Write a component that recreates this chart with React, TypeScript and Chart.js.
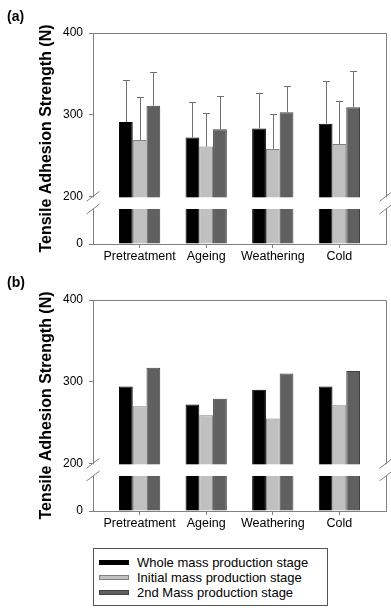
import React, { useEffect, useRef } from 'react';
import { Chart, registerables, LinearScale } from 'chart.js';

Chart.register(...registerables);

// ---------- data ----------
const categories = ['Pretreatment', 'Ageing', 'Weathering', 'Cold'];
const seriesNames = [
  'Whole mass production stage',
  'Initial mass production stage',
  '2nd Mass production stage',
];
const yTicks = [0, 200, 300, 400];

// panel (a): means and upper error (SD)
const aWhole = [291, 272, 283, 289];
const aInitial = [269, 261, 258, 264];
const aSecond = [311, 282, 303, 309];
const aWholeErr = [52, 43, 43, 52];
const aInitialErr = [53, 41, 43, 53];
const aSecondErr = [41, 41, 32, 44];

// panel (b): means
const bWhole = [294, 272, 290, 294];
const bInitial = [270, 259, 255, 271];
const bSecond = [317, 279, 310, 313];

// ---------- styles ----------
const FONT = 'Arial, "Liberation Sans", Helvetica, sans-serif';
const fills = ['#000000', '#c0c0c0', '#606060'];
const borders = ['#000000', '#808080', '#404040'];
const BREAK_LOW = 50;
const BREAK_HIGH = 200;
const LOW_FRAC = 0.166;
const HIGH_FRAC = 0.226;

Chart.defaults.font.family = FONT;
Chart.defaults.color = '#000';

class BrokenScale extends LinearScale {
  static id = 'broken';
  static defaults = { ...(LinearScale as any).defaults };
  getPixelForValue(value: any) {
    if (value === null || value === undefined || isNaN(value)) return NaN;
    const self: any = this;
    const min = self.min;
    const max = self.max;
    let dec: number;
    if (value >= BREAK_HIGH) dec = HIGH_FRAC + ((value - BREAK_HIGH) / (max - BREAK_HIGH)) * (1 - HIGH_FRAC);
    else if (value <= BREAK_LOW) dec = ((value - min) / (BREAK_LOW - min)) * LOW_FRAC;
    else dec = LOW_FRAC + ((value - BREAK_LOW) / (BREAK_HIGH - BREAK_LOW)) * (HIGH_FRAC - LOW_FRAC);
    return self.getPixelForDecimal(dec);
  }
}
Chart.register(BrokenScale as any);

const decorPlugin = {
  id: 'breakDecor',
  afterDatasetsDraw(chart: any) {
    const { ctx, chartArea } = chart;
    const { left, right, top, bottom } = chartArea;
    const y = chart.scales.y;
    ctx.save();
    ctx.strokeStyle = '#808080';
    ctx.lineWidth = 1;
    // frame: top and right
    ctx.beginPath();
    ctx.moveTo(left, Math.round(top) + 0.5);
    ctx.lineTo(Math.round(right) + 0.5, Math.round(top) + 0.5);
    ctx.lineTo(Math.round(right) + 0.5, bottom);
    ctx.stroke();
    // axis break gap
    const hiPx = y.getPixelForValue(BREAK_HIGH);
    const loPx = y.getPixelForValue(BREAK_LOW);
    ctx.fillStyle = '#ffffff';
    ctx.fillRect(left - 2, hiPx + 1, right - left + 5, loPx - hiPx - 1);
    ctx.strokeStyle = '#808080';
    [left, right].forEach((ex) => {
      [hiPx, loPx].forEach((ey) => {
        ctx.beginPath();
        ctx.moveTo(ex - 6.5, ey + 5);
        ctx.lineTo(ex + 6.5, ey - 5);
        ctx.stroke();
      });
    });
    // error bars (upper only)
    ctx.strokeStyle = '#707070';
    chart.data.datasets.forEach((ds: any, s: number) => {
      if (!ds.errorBars) return;
      const meta = chart.getDatasetMeta(s);
      meta.data.forEach((el: any, i: number) => {
        const v = ds.data[i].y;
        const yTop = Math.round(y.getPixelForValue(v + ds.errorBars[i])) + 0.5;
        const x = Math.round(el.x) + 0.5;
        ctx.beginPath();
        ctx.moveTo(x, el.y);
        ctx.lineTo(x, yTop);
        ctx.moveTo(x - 3.5, yTop);
        ctx.lineTo(x + 3.5, yTop);
        ctx.stroke();
      });
    });
    ctx.restore();
  },
};

const CANVAS_W = 391;
const CANVAS_H = 270;

function buildConfig(values: number[][], errors: number[][] | null, padTop: number, plotBottom: number): any {
  return {
    type: 'bar',
    data: {
      datasets: values.map((vals, s) => ({
        label: seriesNames[s],
        data: vals.map((v, i) => ({ x: i, y: v })),
        errorBars: errors ? errors[s] : null,
        backgroundColor: fills[s],
        borderColor: borders[s],
        borderWidth: 1,
        categoryPercentage: 0.62,
        barPercentage: 1,
      })),
    },
    options: {
      responsive: false,
      animation: false,
      devicePixelRatio: 1,
      events: [],
      layout: { padding: { top: padTop, right: 5, left: 0, bottom: 0 } },
      plugins: { legend: { display: false }, tooltip: { enabled: false } },
      scales: {
        x: {
          type: 'linear',
          min: -0.7,
          max: 3.7,
          offset: false,
          afterBuildTicks: (s: any) => {
            s.ticks = categories.map((_, i) => ({ value: i }));
          },
          afterFit: (s: any) => {
            s.height = CANVAS_H - plotBottom;
          },
          grid: { drawOnChartArea: false, offset: false, tickLength: 4, color: '#808080' },
          border: { color: '#808080' },
          ticks: {
            autoSkip: false,
            maxRotation: 0,
            padding: 1,
            color: '#000',
            font: { size: 12.5 },
            callback: (v: any) => categories[v] ?? '',
          },
        },
        y: {
          type: 'broken',
          min: 0,
          max: 400,
          afterBuildTicks: (s: any) => {
            s.ticks = yTicks.map((v) => ({ value: v }));
          },
          afterFit: (s: any) => {
            s.width = 93;
          },
          grid: { drawOnChartArea: false, tickLength: 4, color: '#808080' },
          border: { color: '#808080' },
          ticks: { padding: 6, color: '#000', font: { size: 12 } },
          title: {
            display: true,
            text: 'Tensile Adhesion Strength (N)',
            color: '#000',
            font: { size: 16, weight: 'bold' },
            padding: { top: 37, bottom: 0 },
          },
        },
      },
    },
    plugins: [decorPlugin],
  };
}

function Panel(props: { values: number[][]; errors: number[][] | null; top: number; padTop: number; plotBottom: number }) {
  const ref = useRef<HTMLCanvasElement>(null);
  useEffect(() => {
    const chart = new Chart(ref.current as any, buildConfig(props.values, props.errors, props.padTop, props.plotBottom));
    return () => chart.destroy();
  }, []);
  return (
    <canvas
      ref={ref}
      width={CANVAS_W}
      height={CANVAS_H}
      style={{ position: 'absolute', left: 0, top: props.top, width: CANVAS_W, height: CANVAS_H, display: 'block' }}
    />
  );
}

const swatchBorders = ['#000000', '#808080', '#404040'];
const legendRowCenters = [562.5, 577.5, 592.5];

export default function App() {
  return (
    <div
      style={{
        position: 'absolute',
        left: 0,
        top: 0,
        width: 391,
        height: 608,
        background: '#fff',
        fontFamily: FONT,
        overflow: 'hidden',
      }}
    >
      <Panel values={[aWhole, aInitial, aSecond]} errors={[aWholeErr, aInitialErr, aSecondErr]} top={0} padTop={33} plotBottom={244} />
      <Panel values={[bWhole, bInitial, bSecond]} errors={null} top={270} padTop={30} plotBottom={241} />
      <div style={{ position: 'absolute', left: 7, top: 8, fontSize: 14, fontWeight: 'bold', lineHeight: '16px' }}>(a)</div>
      <div style={{ position: 'absolute', left: 7, top: 274, fontSize: 14, fontWeight: 'bold', lineHeight: '16px' }}>(b)</div>
      <div
        style={{
          position: 'absolute',
          left: 93,
          top: 548,
          width: 233,
          height: 56,
          border: '1px solid #555',
        }}
      />
      {seriesNames.map((name, s) => (
        <div key={name} style={{ position: 'absolute', left: 99, top: legendRowCenters[s] - 8, height: 16, display: 'flex', alignItems: 'center' }}>
          <div style={{ width: 30, height: 5, boxSizing: 'border-box', background: fills[s], border: `1px solid ${swatchBorders[s]}`, marginRight: 8 }} />
          <span style={{ fontSize: 13, lineHeight: '16px', color: '#000', whiteSpace: 'nowrap' }}>{name}</span>
        </div>
      ))}
    </div>
  );
}
